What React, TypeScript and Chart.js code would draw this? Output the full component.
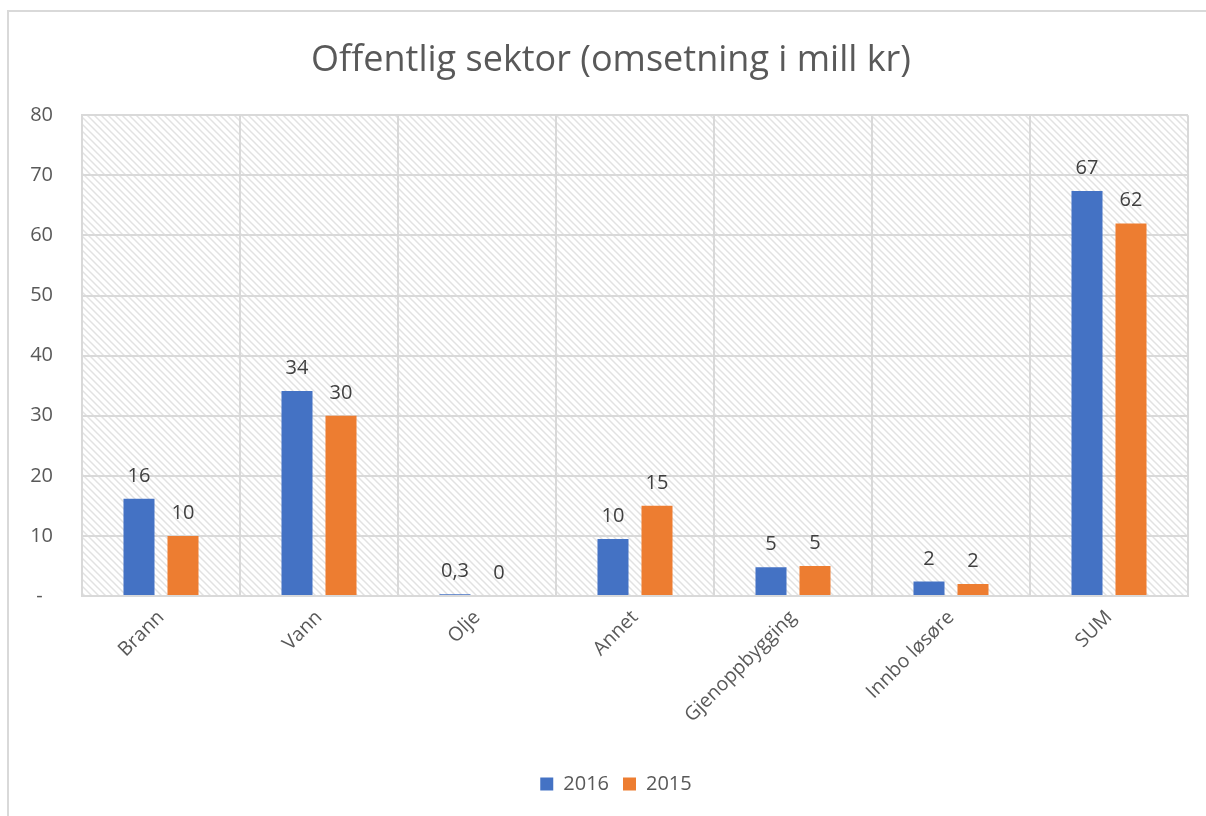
import React, { useEffect, useRef } from "react";
import { Chart, registerables } from "chart.js";

Chart.register(...registerables);

const TITLE = "Offentlig sektor (omsetning i mill kr)";
const categories = ["Brann", "Vann", "Olje", "Annet", "Gjenoppbygging", "Innbo løsøre", "SUM"];
const series2016 = [16.2, 34.1, 0.3, 9.5, 4.8, 2.4, 67.4];
const series2015 = [10.0, 30.0, 0.0, 15.0, 5.0, 2.0, 62.0];
const seriesNames = ["2016", "2015"];
const yTicks = [0, 10, 20, 30, 40, 50, 60, 70, 80];

const BLUE = "#4472C4";
const ORANGE = "#ED7D31";
const TEXT = "#595959";
const GRID = "#d9d9d9";
const FONT = "'Open Sans', 'Noto Sans', sans-serif";

function formatLabel(v: number): string {
  if (v === 0) return "0";
  if (v < 1) return v.toFixed(1).replace(".", ",");
  return String(Math.round(v));
}

function makePattern(ctx: CanvasRenderingContext2D): CanvasPattern | string {
  const size = 7;
  const c = document.createElement("canvas");
  c.width = size;
  c.height = size;
  const p = c.getContext("2d");
  if (!p) return "#ffffff";
  p.fillStyle = "#ffffff";
  p.fillRect(0, 0, size, size);
  p.strokeStyle = "#e2e2e2";
  p.lineWidth = 1.5;
  p.beginPath();
  p.moveTo(-1, -1);
  p.lineTo(size + 1, size + 1);
  p.moveTo(-1, size - 1);
  p.lineTo(1, size + 1);
  p.moveTo(size - 1, -1);
  p.lineTo(size + 1, 1);
  p.stroke();
  return ctx.createPattern(c, "repeat") || "#ffffff";
}

const framePlugin = {
  id: "framePlugin",
  afterLayout(chart: any) {
    const t = chart.titleBlock;
    if (t) {
      t.left += 17;
      t.right += 17;
    }
    const l = chart.legend;
    if (l) {
      l.left += 22;
      l.right += 22;
    }
  },
  beforeDraw(chart: any) {
    const { ctx, chartArea } = chart;
    ctx.save();
    ctx.fillStyle = "#ffffff";
    ctx.fillRect(0, 0, chart.width, chart.height);
    ctx.strokeStyle = GRID;
    ctx.lineWidth = 2;
    ctx.beginPath();
    ctx.moveTo(8, chart.height + 2);
    ctx.lineTo(8, 11);
    ctx.lineTo(chart.width + 2, 11);
    ctx.stroke();
    ctx.fillStyle = makePattern(ctx);
    ctx.fillRect(chartArea.left, chartArea.top, chartArea.right - chartArea.left, chartArea.bottom - chartArea.top);
    ctx.restore();
  },
};

const labelPlugin = {
  id: "labelPlugin",
  afterDatasetsDraw(chart: any) {
    const { ctx } = chart;
    ctx.save();
    ctx.font = `20px ${FONT}`;
    ctx.fillStyle = "#404040";
    ctx.textAlign = "center";
    ctx.textBaseline = "alphabetic";
    chart.data.datasets.forEach((ds: any, di: number) => {
      const meta = chart.getDatasetMeta(di);
      meta.data.forEach((bar: any, i: number) => {
        const v = ds.data[i] as number;
        ctx.fillText(formatLabel(v), bar.x, bar.y - 17);
      });
    });
    ctx.restore();
  },
};

export default function App() {
  const ref = useRef<HTMLCanvasElement | null>(null);

  useEffect(() => {
    if (!ref.current) return;
    const chart = new Chart(ref.current, {
      type: "bar",
      data: {
        labels: categories,
        datasets: [
          {
            label: seriesNames[0],
            data: series2016,
            backgroundColor: BLUE,
            categoryPercentage: 0.557,
            barPercentage: 0.705,
          },
          {
            label: seriesNames[1],
            data: series2015,
            backgroundColor: ORANGE,
            categoryPercentage: 0.557,
            barPercentage: 0.705,
          },
        ],
      },
      options: {
        animation: false,
        responsive: false,
        maintainAspectRatio: false,
        layout: { padding: { left: 0, right: 18, top: 0, bottom: 12 } },
        plugins: {
          title: {
            display: true,
            text: TITLE,
            color: TEXT,
            font: { family: FONT, size: 36, weight: "normal" },
            padding: { top: 39, bottom: 33 },
          },
          legend: {
            display: true,
            position: "bottom",
            labels: {
              color: TEXT,
              font: { family: FONT, size: 20 },
              boxWidth: 13,
              boxHeight: 13,
              padding: 14,
            },
          },
          tooltip: { enabled: false },
        },
        scales: {
          x: {
            grid: { offset: true, color: GRID, lineWidth: 2, drawTicks: false },
            border: { color: GRID, width: 2 },
            ticks: {
              color: TEXT,
              font: { family: FONT, size: 19.5 },
              maxRotation: 45,
              minRotation: 45,
              padding: 10,
            },
            afterFit(scale: any) {
              scale.height = 164;
            },
          },
          y: {
            min: 0,
            max: 80,
            afterBuildTicks(scale: any) {
              scale.ticks = yTicks.map((v) => ({ value: v }));
            },
            grid: { color: GRID, lineWidth: 2, drawTicks: false },
            border: { color: GRID, width: 2 },
            ticks: {
              color: TEXT,
              font: { family: FONT, size: 20 },
              padding: 29,
              callback: (v: any) => (v === 0 ? "-  " : String(v)),
            },
            afterFit(scale: any) {
              scale.width = 82;
            },
          },
        },
      },
      plugins: [framePlugin, labelPlugin],
    });
    return () => chart.destroy();
  }, []);

  return (
    <div style={{ position: "fixed", left: 0, top: 0, width: 1206, height: 816, background: "#fff" }}>
      <canvas ref={ref} width={1206} height={816} style={{ width: 1206, height: 816, display: "block" }} />
    </div>
  );
}
